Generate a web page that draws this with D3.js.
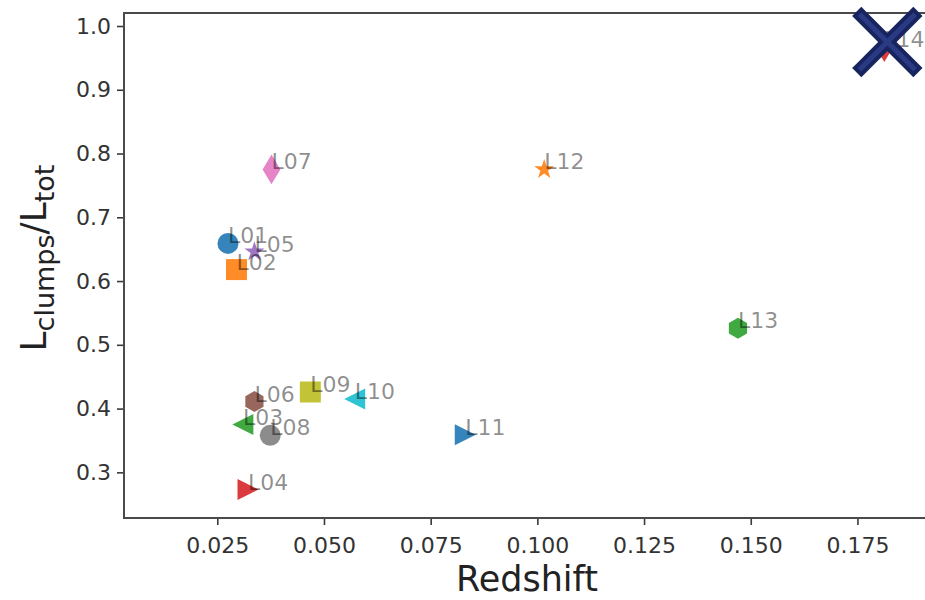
<!DOCTYPE html>
<html>
<head>
<meta charset="utf-8">
<script src="https://cdn.jsdelivr.net/npm/d3@7"></script>
<style>
  html, body { margin: 0; padding: 0; background: #fff; }
  svg { display: block; font-family: "DejaVu Sans", sans-serif; }
</style>
</head>
<body>
<svg id="chart" width="925" height="600"></svg>
<script>
// Galaxy sample: redshift vs. fraction of light in clumps
const names    = ["L01","L02","L03","L04","L05","L06","L07","L08","L09","L10","L11","L12","L13","L14"];
const redshift = [0.0275,0.0295,0.0310,0.0322,0.0337,0.0337,0.0377,0.0374,0.0468,0.0572,0.0831,0.1016,0.1470,0.1813];
const lumFrac  = [0.659,0.618,0.375,0.273,0.646,0.411,0.775,0.358,0.426,0.415,0.359,0.775,0.526,0.967];
const markers  = ["o","s","<",">","*","h","d","o","s","<",">","*","h","d"];
const xTicks   = [0.025,0.050,0.075,0.100,0.125,0.150,0.175];
const yTicks   = [0.3,0.4,0.5,0.6,0.7,0.8,0.9,1.0];

const svg = d3.select("#chart");
const plot = { left: 124, right: 930, top: 13, bottom: 518 };

const x = d3.scaleLinear().domain([0.00314, 0.192]).range([plot.left, plot.right]);
const y = d3.scaleLinear().domain([0.2284, 1.0204]).range([plot.bottom, plot.top]);

const MS = 21; // marker size in px
const palette = d3.schemeCategory10;

function poly(pts) { return "M" + pts.map(p => p[0].toFixed(2) + "," + p[1].toFixed(2)).join("L") + "Z"; }
function markerPath(m, s) {
  const h = s / 2;
  switch (m) {
    case "o": return `M${h},0A${h},${h} 0 1,1 ${-h},0A${h},${h} 0 1,1 ${h},0Z`;
    case "s": return poly([[-h,-h],[h,-h],[h,h],[-h,h]]);
    case "<": return poly([[-h,0],[h,-h],[h,h]]);
    case ">": return poly([[h,0],[-h,-h],[-h,h]]);
    case "*": {
      const pts = [];
      for (let i = 0; i < 10; i++) {
        const r = i % 2 === 0 ? h : h * 0.381966;
        const a = -Math.PI / 2 + i * Math.PI / 5;
        pts.push([r * Math.cos(a), r * Math.sin(a)]);
      }
      return poly(pts);
    }
    case "h": {
      const pts = [];
      for (let i = 0; i < 6; i++) {
        const a = -Math.PI / 2 + i * Math.PI / 3;
        pts.push([h * Math.cos(a), h * Math.sin(a)]);
      }
      return poly(pts);
    }
    case "d": {
      const dy = s * 0.7071, dx = s * 0.7071 * 0.6;
      return poly([[0,-dy],[dx,0],[0,dy],[-dx,0]]);
    }
  }
}

const data = names.map((n, i) => ({ name: n, z: redshift[i], f: lumFrac[i], m: markers[i], c: palette[i % 10] }));

// axes
const axisColor = "#3a3a3a";
const gx = svg.append("g").attr("transform", `translate(0,${plot.bottom})`)
  .call(d3.axisBottom(x).tickValues(xTicks).tickFormat(d3.format(".3f")).tickSize(7).tickPadding(12));
const gy = svg.append("g").attr("transform", `translate(${plot.left},0)`)
  .call(d3.axisLeft(y).tickValues(yTicks).tickFormat(d3.format(".1f")).tickSize(7).tickPadding(6));
[gx, gy].forEach(g => {
  g.select(".domain").remove();
  g.selectAll(".tick line").attr("stroke", axisColor).attr("stroke-width", 1.6);
  g.selectAll(".tick text").attr("fill", "#333").style("font-size", "22px").style("font-family", "DejaVu Sans");
});

// spines
svg.append("rect")
  .attr("x", plot.left).attr("y", plot.top)
  .attr("width", plot.right - plot.left).attr("height", plot.bottom - plot.top)
  .attr("fill", "none").attr("stroke", "#4a4a4a").attr("stroke-width", 2);

// markers
svg.append("g").selectAll("path").data(data).join("path")
  .attr("transform", d => `translate(${x(d.z)},${y(d.f)})`)
  .attr("d", d => markerPath(d.m, MS))
  .attr("fill", d => d.c)
  .attr("opacity", 0.9);

// point labels
svg.append("g").selectAll("text").data(data).join("text")
  .attr("x", d => x(d.z)).attr("y", d => y(d.f))
  .attr("fill", "#000").attr("fill-opacity", 0.45)
  .style("font-size", "22px")
  .text(d => d.name);

// rejection cross over the last point
const last = data[data.length - 1];
const cx = x(last.z) + 3, cy = y(last.f) - 5, a = 26;
const cross = svg.append("g").attr("transform", `translate(${cx},${cy})`);
[[-a,-a,a,a],[-a,a,a,-a]].forEach(([x1,y1,x2,y2]) => {
  cross.append("line").attr("x1",x1).attr("y1",y1).attr("x2",x2).attr("y2",y2)
    .attr("stroke", "#17245e").attr("stroke-width", 13).attr("stroke-linecap", "square");
});
[[-a,-a,a,a],[-a,a,a,-a]].forEach(([x1,y1,x2,y2]) => {
  cross.append("line").attr("x1",x1).attr("y1",y1).attr("x2",x2).attr("y2",y2)
    .attr("stroke", "#2b3a85").attr("stroke-width", 5).attr("stroke-linecap", "square");
});

// axis titles
svg.append("text")
  .attr("x", (plot.left + plot.right) / 2).attr("y", 591)
  .attr("text-anchor", "middle").attr("fill", "#222")
  .style("font-size", "35px")
  .text("Redshift");

const yl = svg.append("text")
  .attr("transform", `translate(46,258) rotate(-90)`)
  .attr("text-anchor", "middle").attr("fill", "#222")
  .style("font-size", "36px");
yl.append("tspan").text("L");
yl.append("tspan").attr("dy", 8).style("font-size", "27px").text("clumps");
yl.append("tspan").attr("dy", -8).text("/L");
yl.append("tspan").attr("dy", 8).style("font-size", "27px").text("tot");
</script>
</body>
</html>
